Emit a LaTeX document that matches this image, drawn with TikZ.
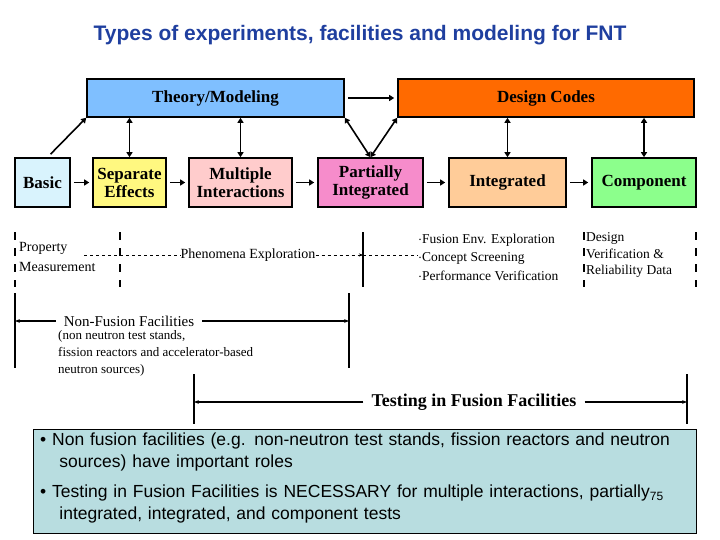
\documentclass[tikz,border=0pt]{standalone}
\usepackage{fontspec}
\setmainfont{Liberation Serif}
\setsansfont{Liberation Sans}
\usetikzlibrary{arrows.meta}
\definecolor{titleblue}{HTML}{1F3F9F}
\definecolor{theorycol}{HTML}{7FBFFF}
\definecolor{designcol}{HTML}{FF6A00}
\definecolor{notecol}{HTML}{B8DDE0}
\tikzset{
    box/.style={draw, line width=1.6pt, font=\bfseries\fontsize{17}{18}\selectfont, align=center, inner sep=0pt},
    link/.style={line width=1.6pt, -{Triangle[length=5pt,width=6pt]}},
    both/.style={line width=1.6pt, {Triangle[length=5pt,width=6pt]}-{Triangle[length=5pt,width=6pt]}},
    span/.style={line width=1.2pt, -{Stealth[length=5pt]}},
    fence/.style={line width=1.6pt},
    small/.style={font=\fontsize{14}{16}\selectfont, align=left, inner sep=0pt}
}
\begin{document}
\begin{tikzpicture}[x=1pt,y=-1pt]
    \useasboundingbox (0,0) rectangle (720,540);
    % Title
    \node[font=\sffamily\bfseries\fontsize{21}{23}\selectfont, text=titleblue] (title) at (360,35) {Types of experiments, facilities and modeling for FNT};

    % Top row
    \node[box, fill=theorycol, minimum width=257pt, minimum height=38pt] (theory) at (215.5,98) {Theory/Modeling};
    \node[box, fill=designcol, minimum width=296pt, minimum height=38pt] (design) at (546,98) {Design Codes};

    % Test levels
    \node[box, fill=cyan!15, minimum width=55pt, minimum height=49pt] (basic) at (42.5,182.5) {Basic};
    \node[box, fill=yellow!50, minimum width=73pt, minimum height=49pt] (separate) at (129.5,182.5) {Separate\\Effects};
    \node[box, fill=red!20, minimum width=103pt, minimum height=49pt] (multiple) at (240.5,182.5) {Multiple\\Interactions};
    \node[box, fill=magenta!45, minimum width=105pt, minimum height=49pt] (partial) at (370.5,182.5) {Partially\\Integrated};
    \node[box, fill=orange!40, minimum width=117pt, minimum height=49pt] (integrated) at (507.5,182.5) {Integrated};
    \node[box, fill=green!45, minimum width=104pt, minimum height=49pt] (component) at (644,182.5) {Component};

    \draw[link, shorten <=3pt, shorten >=3pt] (theory) -- (design);
    \draw[link] (basic.north) ++(8,-3) coordinate (bup) (bup) -- (theory.south west);
    \draw[both] (separate.north) -- (separate.north |- theory.south);
    \draw[both] (multiple.north) -- (multiple.north |- theory.south);
    \draw[both] (partial.north) -- (theory.south east);
    \draw[both] (partial.north) -- (design.south west);
    \draw[both] (integrated.north) -- (integrated.north |- design.south);
    \draw[both] (component.north) -- (component.north |- design.south);
    \foreach \a/\b in {basic/separate, separate/multiple, multiple/partial, partial/integrated, integrated/component}
        \draw[link, shorten <=3pt, shorten >=3pt] (\a) -- (\b);

    % Regimes
    \foreach \x in {15,120,584,696}
        \draw[fence, dash pattern=on 8pt off 8pt] (\x,232) -- (\x,287);
    \draw[fence] (363,232) -- (363,287);
    \node[small, anchor=west, font=\fontsize{14}{20}\selectfont] (property) at (19,257) {Property\\Measurement};
    \node[small] (phenomena) at (248,255) {Phenomena Exploration};
    \node[small, anchor=west, font=\fontsize{13.5}{18.5}\selectfont] (fusionexp) at (418,257) {$\cdot$Fusion Env. Exploration\\$\cdot$Concept Screening\\$\cdot$Performance Verification};
    \node[small, anchor=west, font=\fontsize{13.5}{16.5}\selectfont] (reliability) at (586,255) {Design\\Verification \&\\Reliability Data};
    \draw[dashed, thin] (84,255) -- (phenomena.west);
    \draw[dashed, thin, -{Stealth[length=4pt]}] (phenomena.east) -- (363,255);
    \draw[dashed, thin] (363,255) -- (418,255);

    % Non-fusion facilities
    \draw[fence] (15,293) -- (15,368);
    \draw[fence] (349,293) -- (349,368);
    \node[small, font=\fontsize{15}{17}\selectfont, inner xsep=8pt] (nonfusion) at (129,321) {Non-Fusion Facilities};
    \draw[span] (nonfusion.west) -- (15,321);
    \draw[span] (nonfusion.east) -- (349,321);
    \node[small, anchor=north west, font=\fontsize{13}{17}\selectfont] (nonfusionnote) at (58,330) {(non neutron test stands,\\fission reactors and accelerator-based\\neutron sources)};

    % Fusion facilities
    \draw[fence] (194,374) -- (194,424);
    \draw[fence] (687,374) -- (687,424);
    \node[small, font=\bfseries\fontsize{18}{20}\selectfont, inner xsep=8pt] (fusion) at (474,402) {Testing in Fusion Facilities};
    \draw[span] (fusion.west) -- (194,402);
    \draw[span] (fusion.east) -- (687,402);

    % Summary
    \node[draw, fill=notecol, line width=0.8pt, minimum width=663pt, minimum height=104pt, anchor=north west] (summary) at (33,429) {};
    \node[anchor=north west, font=\sffamily\fontsize{17.5}{22}\selectfont, text width=660pt, align=left, inner sep=0pt] (bullets) at (40,433) {%
        \textbullet\ Non fusion facilities (e.g. non-neutron test stands, fission reactors and neutron\\
        \hspace*{1.1em}sources) have important roles\\[8pt]
        \textbullet\ Testing in Fusion Facilities is NECESSARY for multiple interactions, partially$_{\mbox{\fontsize{12}{12}\selectfont 75}}$\\
        \hspace*{1.1em}integrated, integrated, and component tests};
\end{tikzpicture}
\end{document}
